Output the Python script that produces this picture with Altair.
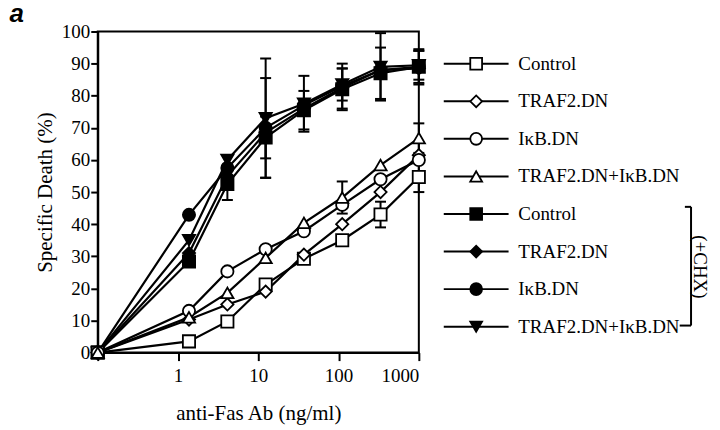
import altair as alt
import pandas as pd

# ---- data ----
DOSE = [0.1, 1.37, 4.12, 12.35, 37.0, 111.1, 333.3, 1000.0]   # 0 ng/ml plotted at the left edge
LABELS = ["Control", "TRAF2.DN", "IκB.DN", "TRAF2.DN+IκB.DN"]

# without CHX (open symbols)
ctrl = [0, 3.5, 9.7, 21.2, 29.2, 35.0, 43.0, 54.7]
traf = [0, 10.3, 15.0, 19.0, 30.5, 40.0, 50.0, 61.5]
ikb = [0, 13.0, 25.3, 32.2, 37.8, 46.0, 54.0, 60.0]
both = [0, 11.0, 18.6, 29.5, 40.4, 48.3, 58.4, 66.8]
ctrl_err = [0, 0, 0, 0, 0, 0, 4.0, 4.7]
traf_err = [0, 0, 0, 0, 0, 0, 0, 0]
ikb_err = [0, 0, 0, 0, 0, 0, 0, 0]
both_err = [0, 0, 0, 0, 0, 5.0, 0, 4.6]

# with CHX (filled symbols)
ctrl_c = [0, 28.4, 52.5, 67.0, 75.5, 82.0, 87.0, 89.0]
traf_c = [0, 31.0, 55.0, 68.5, 76.0, 82.5, 88.0, 88.5]
ikb_c = [0, 42.9, 57.5, 70.0, 77.0, 83.0, 88.0, 89.0]
both_c = [0, 35.0, 60.0, 73.0, 77.5, 83.5, 89.0, 89.5]
ctrl_c_err = [0, 0, 5.0, 6.5, 6.0, 6.5, 8.0, 5.0]
traf_c_err = [0, 0, 0, 0, 0, 0, 0, 0]
ikb_c_err = [0, 0, 0, 15.5, 0, 7.0, 0, 5.5]
both_c_err = [0, 0, 0, 18.6, 8.7, 5.0, 10.5, 4.5]

IDS = LABELS + [l + " (+CHX)" for l in LABELS]
VALUES = [ctrl, traf, ikb, both, ctrl_c, traf_c, ikb_c, both_c]
ERRORS = [ctrl_err, traf_err, ikb_err, both_err, ctrl_c_err, traf_c_err, ikb_c_err, both_c_err]
SHAPES = ["square", "diamond", "circle", "triangle-up",
          "square", "diamond", "circle", "triangle-down"]
FILLS = ["white"] * 4 + ["black"] * 4

rows = []
for sid, vals, errs in zip(IDS, VALUES, ERRORS):
    for d, v, e in zip(DOSE, vals, errs):
        rows.append({"series": sid, "chx": "+CHX" in sid, "dose": d, "value": v,
                     "err": e, "lo": v - e, "hi": v + e})
df = pd.DataFrame(rows)
leg = pd.DataFrame({"idx": list(range(8)), "series": IDS, "label": LABELS * 2})
one = pd.DataFrame({"k": [0]})

SERIF = "Liberation Serif"
shape_enc = alt.Shape("series:N", scale=alt.Scale(domain=IDS, range=SHAPES), legend=None)
fill_enc = alt.Fill("series:N", scale=alt.Scale(domain=IDS, range=FILLS), legend=None)

xscale = alt.Scale(type="log", domain=[0.1, 1000])
yscale = alt.Scale(domain=[0, 100])
xaxis = alt.Axis(values=[0.1, 1, 10, 100, 1000],
                 labelExpr="datum.value < 0.5 ? '' : format(datum.value, 'd')",
                 tickSize=8, labelPadding=6, titlePadding=17, grid=False)
yaxis = alt.Axis(values=list(range(0, 101, 10)), tickSize=7, labelPadding=1,
                 titlePadding=6, grid=False)
XT = "anti-Fas Ab (ng/ml)"
YT = "Specific Death (%)"


def xy(yfield):
    return dict(
        x=alt.X("dose:Q", scale=xscale, axis=xaxis, title=XT),
        y=alt.Y(yfield, scale=yscale, axis=yaxis, title=YT),
    )


base = alt.Chart(df)
err_df = df[df["err"] > 0]
errbar = alt.Chart(err_df).mark_rule(color="black", strokeWidth=2).encode(
    y2="hi:Q", **xy("lo:Q"))
cap_lo = alt.Chart(err_df).mark_tick(color="black", orient="horizontal", size=11,
                                     thickness=2, opacity=1).encode(**xy("lo:Q"))
cap_hi = alt.Chart(err_df).mark_tick(color="black", orient="horizontal", size=11,
                                     thickness=2, opacity=1).encode(**xy("hi:Q"))
lines = base.mark_line(color="black", strokeWidth=2.2).encode(
    detail="series:N", **xy("value:Q"))
pts_filled = base.transform_filter("datum.chx").mark_point(
    stroke="black", strokeWidth=1.8, size=150, opacity=1, fillOpacity=1).encode(
    shape=shape_enc, fill=fill_enc, **xy("value:Q"))
pts_open = base.transform_filter("!datum.chx").mark_point(
    stroke="black", strokeWidth=1.8, size=150, opacity=1, fillOpacity=1).encode(
    shape=shape_enc, fill=fill_enc, **xy("value:Q"))
main = alt.layer(errbar, cap_lo, cap_hi, lines, pts_filled, pts_open)

# ---- custom legend with its own scales ----
lx = alt.Scale(domain=[0, 1], range=[347, 412])
ly = alt.Scale(domain=[0, 7], range=[32.3, 296])
lbase = alt.Chart(leg)
abase = alt.Chart(one)
leg_line = lbase.mark_rule(color="black", strokeWidth=2).encode(
    x=alt.X(datum=0, scale=lx, axis=None), x2=alt.X2(datum=1),
    y=alt.Y("idx:Q", scale=ly, axis=None),
)
leg_pts = lbase.mark_point(stroke="black", strokeWidth=1.8, size=140, opacity=1,
                           fillOpacity=1).encode(
    x=alt.X(datum=0.5, scale=lx, axis=None),
    y=alt.Y("idx:Q", scale=ly, axis=None),
    shape=shape_enc, fill=fill_enc,
)
leg_txt = lbase.mark_text(align="left", baseline="middle", font=SERIF, fontSize=19,
                          color="black").encode(
    x=alt.X(datum=1.15, scale=lx, axis=None),
    y=alt.Y("idx:Q", scale=ly, axis=None),
    text="label:N",
)
br_v = abase.mark_rule(color="black", strokeWidth=2).encode(
    x=alt.X(datum=3.815, scale=lx, axis=None),
    y=alt.Y(datum=3.81, scale=ly, axis=None), y2=alt.Y2(datum=6.97),
)
br_top = abase.mark_rule(color="black", strokeWidth=2).encode(
    x=alt.X(datum=3.72, scale=lx, axis=None), x2=alt.X2(datum=3.815),
    y=alt.Y(datum=3.81, scale=ly, axis=None),
)
br_bot = abase.mark_rule(color="black", strokeWidth=2).encode(
    x=alt.X(datum=3.64, scale=lx, axis=None), x2=alt.X2(datum=3.815),
    y=alt.Y(datum=6.97, scale=ly, axis=None),
)
chx = abase.mark_text(text="(+CHX)", angle=90, align="center", baseline="middle",
                      font=SERIF, fontSize=19, color="black").encode(
    x=alt.X(datum=3.95, scale=lx, axis=None),
    y=alt.Y(datum=5.41, scale=ly, axis=None),
)
panel_label = abase.mark_text(text="a", align="left", baseline="alphabetic",
                              font="Liberation Sans", fontSize=26, fontStyle="italic",
                              fontWeight="bold", color="black").encode(
    x=alt.X(datum=-6.7, scale=lx, axis=None),
    y=alt.Y(datum=-1.1, scale=ly, axis=None),
)
legend = alt.layer(leg_line, leg_pts, leg_txt, br_v, br_top, br_bot, chx, panel_label)

chart = alt.layer(main, legend).resolve_scale(
    x="independent", y="independent"
).properties(
    width=322, height=322,
    autosize="none",
    background="white",
    padding={"left": 90, "top": 23, "right": 294, "bottom": 72},
).configure_view(
    stroke="black", strokeWidth=2
).configure_axis(
    domainColor="black", domainWidth=2, tickColor="black", tickWidth=2,
    labelColor="black", titleColor="black",
    labelFont=SERIF, labelFontSize=19, titleFont=SERIF, titleFontSize=21,
    titleFontWeight="normal",
)

chart.save("out.html", embed_options={"renderer": "svg", "actions": False})
